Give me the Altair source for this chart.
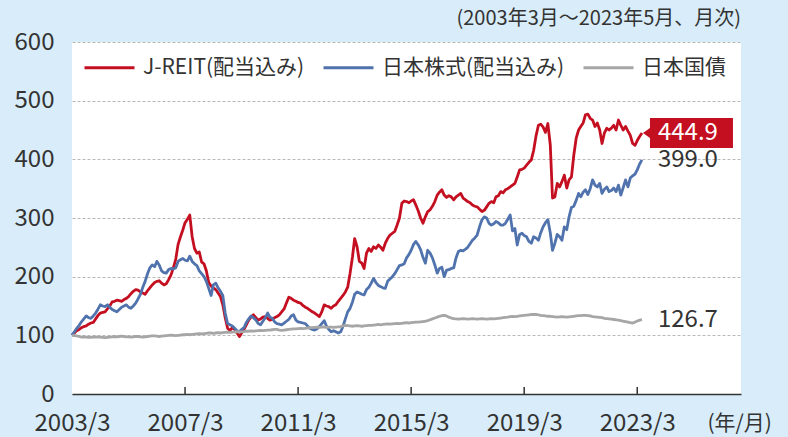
import altair as alt
import pandas as pd

# ---------------- data ----------------
series_names = ["J-REIT(配当込み)", "日本株式(配当込み)", "日本国債"]
series_colors = ["#c40f21", "#5073ae", "#a6a6a6"]

jreit = [
    100, 104, 108, 110, 113, 115, 116, 119, 121, 122, 128, 134,
    138, 139, 140, 145, 150, 157, 158, 160, 159, 158, 161, 163,
    166, 171, 175, 178, 177, 174, 172, 170, 176, 181, 186, 190,
    192, 193, 189, 186, 188, 195, 203, 215, 230, 255, 268, 280,
    292, 298, 305, 268, 248, 240, 242, 225, 222, 210, 190, 184,
    181, 178, 172, 166, 152, 130, 112, 108, 113, 110, 104, 98,
    104, 110, 118, 126, 131, 135, 130, 126, 128, 131, 132, 129,
    126, 127, 130, 132, 135, 140, 145, 155, 165, 163, 160, 158,
    156, 155, 151, 148, 146, 143, 140, 138, 135, 132, 140, 152,
    150, 149, 146, 150, 152, 158, 163, 168, 174, 182, 206, 234,
    265, 251, 226, 223, 214, 240, 248, 243, 251, 248, 254, 250,
    245, 257, 265, 271, 274, 277, 288, 300, 325, 329, 328, 326,
    329, 331, 322, 312, 300, 291, 302, 311, 314, 320, 328, 339,
    344, 348, 339, 335, 338, 336, 331, 336, 339, 342, 334, 331,
    328, 326, 322, 320, 319, 315, 311, 313, 319, 325, 328, 326,
    336, 338, 345, 343, 348, 350, 353, 356, 359, 370, 382, 383,
    385, 390, 395, 399, 415, 440, 458, 460, 455, 446, 461, 425,
    334, 336, 359, 353, 362, 373, 351, 365, 370, 407, 436, 450,
    456, 462, 476, 477, 470, 467, 456, 462, 450, 427, 445, 453,
    450, 453, 458, 450, 467, 458, 450, 456, 448, 441, 427, 424,
    432, 439, 444.9,
]

equity = [
    100, 106, 112, 117, 123, 128, 133, 130, 129, 133, 138, 145,
    152, 150, 149, 152, 148, 144, 142, 140, 144, 148, 150, 152,
    148, 146, 150, 155, 162, 170, 182, 192, 205, 215, 220, 217,
    226, 220, 210, 207, 206, 212, 214, 213, 215, 226, 229, 231,
    228, 227, 235, 226, 222, 219, 210, 205, 200, 192, 180, 168,
    186, 189, 181, 175, 168, 138, 120, 118, 116, 112, 108, 106,
    110, 113, 122, 128, 133, 130, 126, 120, 118, 124, 130, 138,
    131, 129, 123, 120, 119, 118, 121, 124, 127, 133, 135, 126,
    123, 122, 121, 120, 116, 112, 110, 109, 111, 115, 120, 125,
    116, 110, 106, 108, 106, 104, 106, 115, 128, 140, 146, 157,
    170, 174, 172, 170, 169, 178, 182, 189, 197, 190, 185, 183,
    181, 180, 192, 196, 200, 205, 212, 219, 220, 222, 232, 238,
    245, 255, 260, 254, 246, 233, 223, 245, 240, 232, 220, 206,
    214, 216, 200, 211, 212, 214, 215, 232, 243, 245, 244, 247,
    250, 256, 262, 266, 271, 285, 297, 302, 300, 291, 288, 290,
    294, 292, 288, 288, 291, 298, 305, 278, 282, 254, 272, 274,
    270, 268, 260, 257, 268, 266, 262, 275, 285, 292, 297, 275,
    245, 257, 272, 268, 262, 285, 280, 302, 318, 320, 330, 342,
    336, 344, 348, 340, 350, 365, 356, 353, 359, 342, 349, 353,
    345, 347, 351, 345, 356, 339, 352, 365, 353, 368, 372, 375,
    382, 392, 399.0,
]

jgb = [
    100, 99.5, 99, 98, 97, 97.5, 97, 96.5, 96.5, 97, 97.5, 97,
    97, 96.5, 96, 96.5, 97, 97.5, 98, 97.5, 98, 98.5, 98, 97.5,
    97.5, 97, 97.5, 98, 98, 97.5, 97, 97.5, 98, 98.5, 99, 99,
    98.5, 98, 98.5, 99, 99.5, 100, 100.5, 100, 99.5, 100, 100.5, 101,
    101, 101.5, 101, 101.5, 102, 102.5, 103, 102.5, 103, 103.5, 104, 104,
    103.5, 104, 104.5, 104, 104.5, 105, 105.5, 105, 105.5, 106, 106.5, 106,
    106, 106.5, 107, 107, 107.5, 107, 107.5, 108, 108.5, 108, 108.5, 109,
    109, 109.5, 110, 110, 109, 108.5, 109, 109.5, 110, 110.5, 111, 111,
    111.5, 112, 111.5, 112, 112.5, 113, 113, 113.5, 114, 113.5, 114, 114.5,
    113.5, 114, 114, 113.5, 114, 114.5, 115, 116, 117, 116.5, 116, 115.5,
    116, 116.5, 116, 115.5, 116, 116.5, 117, 117, 117.5, 118, 118.5, 118,
    118.5, 119, 119.5, 119, 119.5, 120, 120.5, 120, 120.5, 121, 121.5, 121,
    121.5, 122, 122.5, 122.5, 123, 123.5, 124, 125, 126.5, 128, 129.5, 131,
    132.5, 133.5, 134, 133, 131, 129.5, 128.5, 128, 127.5, 128, 128.5, 128,
    127.5, 128, 128.5, 128, 127.5, 128, 128.5, 128, 127.5, 128, 128.5, 128,
    128.5, 129, 129.5, 130, 130.5, 131, 132, 132.5, 132, 132.5, 133, 133.5,
    134, 134.5, 135, 135.5, 135.5, 135.7, 135, 134, 133.5, 133, 132.5, 132.5,
    132, 131.5, 131, 131.5, 132, 131.5, 131, 131.5, 132, 132.5, 133, 133.5,
    133.5, 134, 134, 133.5, 133, 132, 131.5, 131, 130.5, 130, 129, 128.5,
    128, 127.5, 127, 126.5, 126, 125, 124, 123.5, 122.5, 121.5, 121, 122.5,
    124.5, 126, 126.7,
]

end_labels = ["444.9", "399.0", "126.7"]
end_text_colors = ["#ffffff", "#333333", "#333333"]

tick_labels = ["2003/3", "2007/3", "2011/3", "2015/3", "2019/3", "2023/3"]
y_ticks = [0, 100, 200, 300, 400, 500, 600]
period_note = "(2003年3月～2023年5月、月次)"
x_unit = "(年/月)"

# ---------------- tables ----------------
months = pd.date_range("2003-03-01", "2023-05-01", freq="MS")
dates = [d.strftime("%Y-%m-%dT00:00:00") for d in months]
all_series = [jreit, equity, jgb]
for s in all_series:
    assert len(s) == len(dates), len(s)

rows = []
for name, vals in zip(series_names, all_series):
    for d, v in zip(dates, vals):
        rows.append({"date": d, "series": name, "value": v})
df = pd.DataFrame(rows)

end_df = pd.DataFrame({
    "date": [dates[-1]] * 3,
    "series": series_names,
    "value": [s[-1] for s in all_series],
    "label": end_labels,
    "tcolor": end_text_colors,
})
box_df = end_df.iloc[[0]]

tick_years = [int(t.split("/")[0]) for t in tick_labels]
tick_month = int(tick_labels[0].split("/")[1])
tick_df = pd.DataFrame({"date": [f"{y}-{tick_month:02d}-01T00:00:00" for y in tick_years[1:]]})

FONT = "Noto Sans CJK JP"
TXT = "#333333"

x_scale = alt.Scale(domain=[alt.DateTime(year=2003, month=3, date=1),
                            alt.DateTime(year=2026, month=11, date=1)])
y_scale = alt.Scale(domain=[0, 600], nice=False, zero=True)

x_axis = alt.Axis(
    values=[alt.DateTime(year=y, month=tick_month, date=1) for y in tick_years],
    format="%Y/%-m", ticks=False, tickSize=0, grid=False,
    domain=True, domainColor="#333333", domainWidth=1.5,
    labelFont=FONT, labelFontSize=24, labelColor=TXT, labelPadding=17,
    labelFlush=False, labelOverlap=False, labelBound=False,
    title=x_unit, titleFont=FONT, titleFontSize=21, titleFontWeight="normal",
    titleColor=TXT, titleX=635, titleY=29, titleAlign="left", titleBaseline="middle",
    titleAnchor="start",
)
y_axis = alt.Axis(
    values=y_ticks, ticks=False, tickSize=0, domain=False,
    grid=True, gridColor="#b8b8b8", gridDash=[3, 2], gridWidth=1,
    labelFont=FONT, labelFontSize=24, labelColor=TXT, labelPadding=18,
    title=None,
)

lines = alt.Chart(df).mark_line(strokeWidth=2.8, strokeJoin="round").encode(
    x=alt.X("date:T", scale=x_scale, axis=x_axis),
    y=alt.Y("value:Q", scale=y_scale, axis=y_axis),
    color=alt.Color(
        "series:N",
        scale=alt.Scale(domain=series_names, range=series_colors),
        sort=series_names,
        legend=alt.Legend(
            title=None, orient="none", direction="horizontal",
            legendX=11, legendY=-1,
            symbolType="M-1,0H1", symbolSize=2500, symbolStrokeWidth=3,
            labelFont=FONT, labelFontSize=21, labelColor=TXT, labelLimit=0,
            labelOffset=7, columnPadding=12, padding=0,
        ),
    ),
)

ticks = alt.Chart(tick_df).mark_rule(color="#333333", strokeWidth=1.5).encode(
    x=alt.X("date:T", scale=x_scale),
    y=alt.datum(0),
    y2=alt.datum(12),
)

box_path = "M-1,0 L-0.844,-0.111 L-0.844,-0.333 L1,-0.333 L1,0.333 L-0.844,0.333 L-0.844,0.111 Z"
box = alt.Chart(box_df).mark_point(
    shape=box_path, size=8100, filled=True, opacity=1, strokeWidth=0,
    color=series_colors[0], xOffset=46,
).encode(
    x=alt.X("date:T", scale=x_scale),
    y=alt.Y("value:Q", scale=y_scale),
)

end_text = alt.Chart(end_df).mark_text(
    align="left", baseline="middle", dx=16, fontSize=24, font=FONT,
).encode(
    x=alt.X("date:T", scale=x_scale),
    y=alt.Y("value:Q", scale=y_scale),
    text="label:N",
    color=alt.Color("tcolor:N", scale=None),
)

chart = alt.layer(lines, ticks, box, end_text).properties(
    width=669, height=352,
    title=alt.TitleParams(
        text=period_note, anchor="end", frame="group", orient="top",
        font=FONT, fontSize=20, fontWeight="normal", color=TXT, offset=1,
    ),
    autosize=alt.AutoSizeParams(type="none"),
    padding={"left": 72, "top": 42, "right": 47, "bottom": 43},
    background="#d8edf9",
).configure_view(
    stroke=None, fill="white",
)

chart.save("out.html", embed_options={"renderer": "svg", "actions": False})
